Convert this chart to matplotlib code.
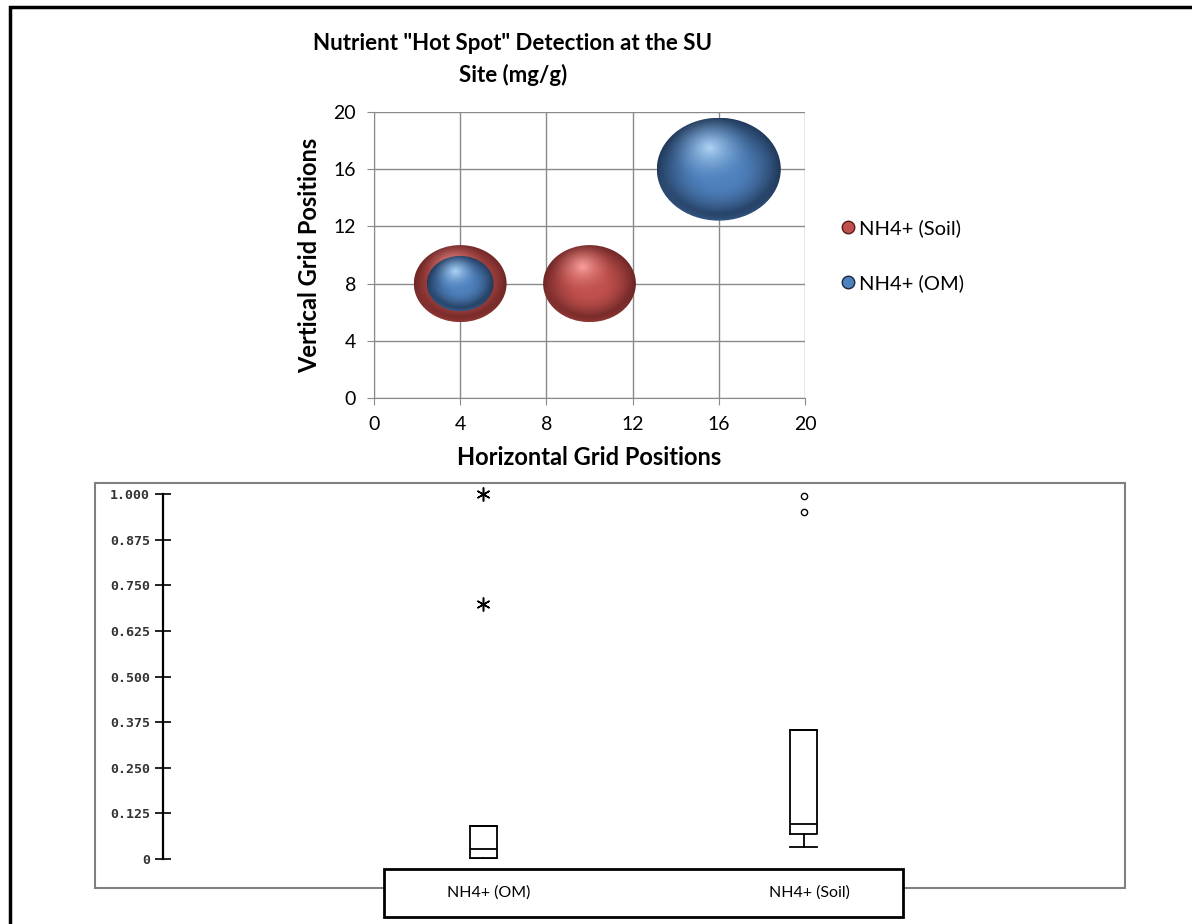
import matplotlib

matplotlib.use("Agg")
import matplotlib.pyplot as plt
import numpy as np
from matplotlib.lines import Line2D
from matplotlib.patches import Ellipse, Rectangle
from matplotlib.transforms import blended_transform_factory

plt.rcParams["font.family"] = ["Lato", "DejaVu Sans"]

# bubble series: grid position and bubble size
soil_x = [4, 10]
soil_y = [8, 8]
soil_size = [0.56, 0.56]
om_x = [4, 16]
om_y = [8, 16]
om_size = [0.29, 1.00]
series_labels = ["NH4+ (Soil)", "NH4+ (OM)"]

# box plot summaries (mg/g)
box_labels = ["NH4+ (OM)", "NH4+ (Soil)"]
box_whislo = [0.000, 0.034]
box_q1 = [0.002, 0.068]
box_med = [0.027, 0.097]
box_q3 = [0.091, 0.353]
box_whishi = [0.091, 0.353]
om_extremes = [0.70, 1.00]
soil_outliers = [0.95, 0.995]
box_ticks = [0, 0.125, 0.25, 0.375, 0.5, 0.625, 0.75, 0.875, 1.0]
box_ticklabels = ["0", "0.125", "0.250", "0.375", "0.500", "0.625", "0.750", "0.875", "1.000"]

W, H = 1192, 924
BLUE = dict(base=(79, 129, 189), light=(175, 212, 245), dark=(22, 40, 66))
RED = dict(base=(192, 80, 77), light=(248, 160, 158), dark=(88, 28, 27))


def px(x0, y0, x1, y1):
    """Figure-fraction rect from pixel corners (top-left origin)."""
    return [x0 / W, 1 - y1 / H, (x1 - x0) / W, (y1 - y0) / H]


def draw_bubble(ax, x, y, w, h, colors, zorder):
    n = 240
    u = np.linspace(-1, 1, n)
    v = np.linspace(1, -1, n)
    U, V = np.meshgrid(u, v)
    r = np.sqrt(U**2 + V**2)
    d = np.sqrt((U + 0.15) ** 2 + (V - 0.42) ** 2)
    base = np.array(colors["base"]) / 255
    light = np.array(colors["light"]) / 255
    dark = np.array(colors["dark"]) / 255

    t_dark = np.clip((r - 0.3) / 0.7, 0, 1) ** 1.6
    t_dark *= 0.8 + 0.2 * np.clip(-V + 0.3 * U, 0, 1)
    t_light = np.clip(1 - d / 0.7, 0, 1) ** 1.7
    rim = np.clip((r - 0.86) / 0.14, 0, 1) * np.clip(-V, 0, 1) * 0.45

    rgb = base * (1 - t_dark[..., None]) + dark * t_dark[..., None]
    rgb = rgb * (1 - t_light[..., None]) + light * t_light[..., None]
    rgb = rgb * (1 - rim[..., None]) + base * 1.15 * rim[..., None]
    rgb = np.clip(rgb, 0, 1)

    im = ax.imshow(rgb, extent=(x - w / 2, x + w / 2, y - h / 2, y + h / 2),
                   aspect="auto", interpolation="bilinear", zorder=zorder)
    clip = Ellipse((x, y), w, h, facecolor="none", edgecolor="none")
    ax.add_patch(clip)
    im.set_clip_path(clip)


fig = plt.figure(figsize=(W / 100, H / 100), dpi=100)

# outer chart frame
fig.add_artist(Rectangle((10 / W, -0.1), 2, 1.1 - 7 / H, transform=fig.transFigure,
                         facecolor="none", edgecolor="black", linewidth=2.5))

# ---- bubble chart ----
ax = fig.add_axes(px(374, 112, 805, 398))
ax.set_xlim(0, 20)
ax.set_ylim(0, 20)
unit_x = 431 / 20
unit_y = 286 / 20
max_diam = 124
max_size = max(soil_size + om_size)

for xs, ys, sizes, colors, z in [(soil_x, soil_y, soil_size, RED, 3),
                                 (om_x, om_y, om_size, BLUE, 4)]:
    for x, y, s in zip(xs, ys, sizes):
        d = max_diam * np.sqrt(s / max_size)
        draw_bubble(ax, x, y, d / unit_x, 0.83 * d / unit_y, colors, z)

ax.set_xlim(0, 20)
ax.set_ylim(0, 20)
ax.set_xticks(range(0, 21, 4))
ax.set_yticks(range(0, 21, 4))
ax.grid(True, color="#8a8a8a", linewidth=1)
ax.set_axisbelow(True)
for side in ["top", "right"]:
    ax.spines[side].set_visible(False)
for side in ["left", "bottom"]:
    ax.spines[side].set_color("#8a8a8a")
ax.tick_params(direction="out", length=5, color="#8a8a8a", labelsize=14, pad=8)
ax.set_xlabel("Horizontal Grid Positions", fontsize=17, fontweight="bold", labelpad=9)
ax.set_ylabel("Vertical Grid Positions", fontsize=17, fontweight="bold", labelpad=9)

fig.text(513 / W, 1 - 43 / H, 'Nutrient "Hot Spot" Detection at the SU',
         ha="center", va="center", fontsize=16, fontweight="bold")
fig.text(513 / W, 1 - 75 / H, "Site (mg/g)",
         ha="center", va="center", fontsize=16, fontweight="bold")

handles = [
    Line2D([], [], linestyle="none", marker="o", markersize=9,
           markerfacecolor=np.array(RED["base"]) / 255, markeredgecolor=np.array(RED["dark"]) / 255),
    Line2D([], [], linestyle="none", marker="o", markersize=9,
           markerfacecolor=np.array(BLUE["base"]) / 255, markeredgecolor=np.array(BLUE["dark"]) / 255),
]
fig.legend(handles, series_labels, loc="center left", bbox_to_anchor=(822 / W, 1 - 256 / H),
           frameon=False, fontsize=14.5, labelspacing=1.85, handlelength=0.8, handletextpad=0.15)

# ---- box plot ----
fig.add_artist(Rectangle((95 / W, 1 - 888 / H), 1030 / W, 405 / H, transform=fig.transFigure,
                         facecolor="none", edgecolor="#808080", linewidth=1.5))

bx = fig.add_axes(px(163, 494, 1124, 859))
bx.set_xlim(0, 3)
bx.set_ylim(0, 1)
bx.patch.set_alpha(0)

stats = []
for i in range(2):
    stats.append(dict(label=box_labels[i], whislo=box_whislo[i], q1=box_q1[i], med=box_med[i],
                      q3=box_q3[i], whishi=box_whishi[i], fliers=[]))
line_kw = dict(color="black", linewidth=1.3)
bx.bxp(stats, positions=[1, 2], widths=0.085, capwidths=0.085, showfliers=False,
       boxprops=line_kw, medianprops=line_kw, whiskerprops=line_kw, capprops=line_kw,
       manage_ticks=False)
bx.plot([1] * len(om_extremes), om_extremes, linestyle="none", marker=(6, 2, 0),
        markersize=10, markeredgewidth=1.1, color="black", clip_on=False)
bx.plot([2] * len(soil_outliers), soil_outliers, linestyle="none", marker="o",
        markersize=4.5, markerfacecolor="none", markeredgecolor="black",
        markeredgewidth=1, clip_on=False)

for side in ["top", "right", "bottom"]:
    bx.spines[side].set_visible(False)
bx.spines["left"].set_linewidth(1.6)
bx.set_xticks([])
bx.set_yticks(box_ticks)
bx.set_yticklabels(box_ticklabels, family="DejaVu Sans Mono", fontsize=9.5, fontweight="bold",
                   color="#333333")
bx.tick_params(axis="y", direction="inout", length=11, width=1.2, pad=4)

# category strip below the plot
fig.add_artist(Rectangle((384 / W, 1 - 917 / H), 519 / W, 48 / H, transform=fig.transFigure,
                         facecolor="white", edgecolor="black", linewidth=2, zorder=5))
strip = blended_transform_factory(bx.transData, fig.transFigure)
for pos, label in zip([1, 2], box_labels):
    fig.text(pos + 0.017, 1 - 893 / H, label, transform=strip, ha="center", va="center",
             fontsize=11.5, zorder=6)

fig.savefig("out.png", dpi=100)
